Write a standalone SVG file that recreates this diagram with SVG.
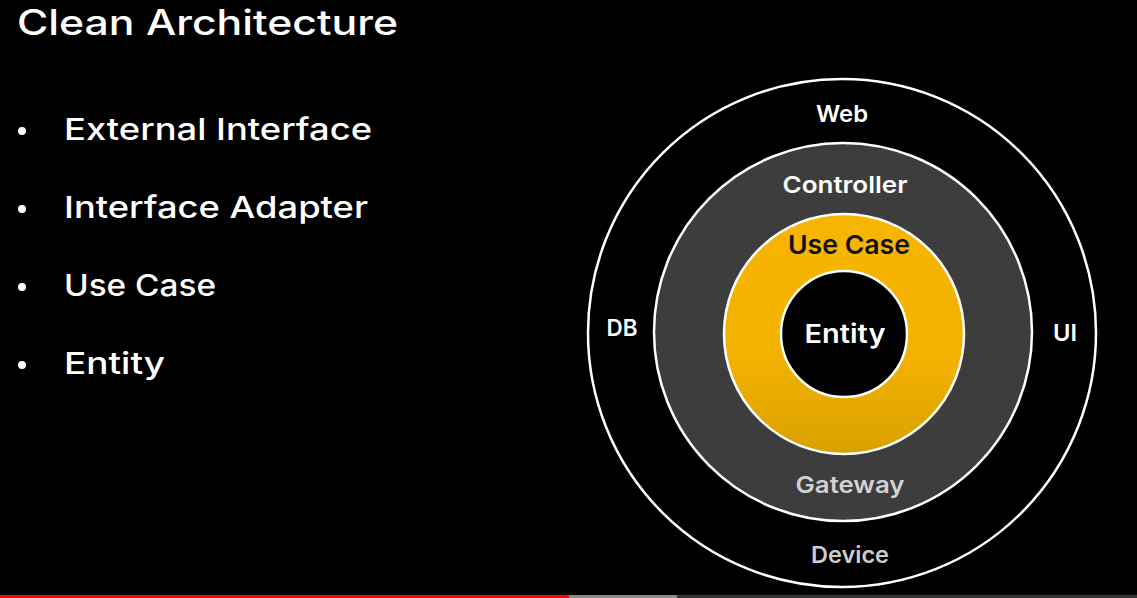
<svg xmlns="http://www.w3.org/2000/svg" width="1137" height="598" viewBox="0 0 1137 598">
  <defs>
    <linearGradient id="gold" x1="0" y1="0" x2="0" y2="1">
      <stop offset="0" stop-color="#F7B500"/>
      <stop offset="0.6" stop-color="#F3B200"/>
      <stop offset="1" stop-color="#D9A000"/>
    </linearGradient>
    <style>
      text { font-family: "Inter", "Liberation Sans", sans-serif; }
      .title { fill: #ffffff; font-size: 35px; font-weight: 500; }
      .bullet { fill: #ffffff; font-size: 30px; font-weight: 500; }
      .dot { fill: #ffffff; }
      .ring { stroke: #ffffff; stroke-width: 2.5; }
      .lbl { font-size: 23px; font-weight: 600; text-anchor: middle; }
      .big { font-size: 26px; font-weight: 600; text-anchor: middle; }
    </style>
  </defs>
  <rect x="0" y="0" width="1137" height="598" fill="#000000"/>

  <g id="title">
    <text class="title" x="17" y="35" textLength="381" lengthAdjust="spacingAndGlyphs">Clean Architecture</text>
  </g>

  <g id="bullets">
    <circle class="dot" cx="22" cy="131" r="4"/>
    <text class="bullet" x="64" y="140" textLength="308" lengthAdjust="spacingAndGlyphs">External Interface</text>
    <circle class="dot" cx="22" cy="209" r="4"/>
    <text class="bullet" x="64" y="218" textLength="304" lengthAdjust="spacingAndGlyphs">Interface Adapter</text>
    <circle class="dot" cx="22" cy="287" r="4"/>
    <text class="bullet" x="64" y="296" textLength="152" lengthAdjust="spacingAndGlyphs">Use Case</text>
    <circle class="dot" cx="22" cy="365" r="4"/>
    <text class="bullet" x="64" y="374" textLength="101" lengthAdjust="spacingAndGlyphs">Entity</text>
  </g>

  <g id="external-interface">
    <circle class="ring" cx="842" cy="333" r="254" fill="#000000" stroke-width="3"/>
    <text class="lbl" x="842" y="122" fill="#ffffff" textLength="52" lengthAdjust="spacingAndGlyphs">Web</text>
    <text class="lbl" x="622" y="336" fill="#ffffff" textLength="31" lengthAdjust="spacingAndGlyphs">DB</text>
    <text class="lbl" x="1065" y="341" fill="#ffffff" textLength="24" lengthAdjust="spacingAndGlyphs">UI</text>
    <text class="lbl" x="850" y="563" fill="#cccccc" textLength="78" lengthAdjust="spacingAndGlyphs">Device</text>
  </g>

  <g id="interface-adapter">
    <circle class="ring" cx="843" cy="332" r="189" fill="#3d3d3d"/>
    <text class="lbl" x="845" y="193" fill="#ffffff" textLength="125" lengthAdjust="spacingAndGlyphs">Controller</text>
    <text class="lbl" x="850" y="493" fill="#d2d2d2" textLength="109" lengthAdjust="spacingAndGlyphs">Gateway</text>
  </g>

  <g id="use-case">
    <circle class="ring" cx="844" cy="334" r="120" fill="url(#gold)"/>
    <text class="big" x="849" y="254" fill="#111111" textLength="122" lengthAdjust="spacingAndGlyphs">Use Case</text>
  </g>

  <g id="entity">
    <circle class="ring" cx="844" cy="334" r="63" fill="#000000"/>
    <text class="big" x="845" y="343" fill="#ffffff" textLength="81" lengthAdjust="spacingAndGlyphs">Entity</text>
  </g>

  <g id="progress-bar">
    <rect x="0" y="595" width="569" height="3" fill="#FF0000"/>
    <rect x="569" y="595" width="108" height="3" fill="#8a8a8a"/>
    <rect x="677" y="595" width="460" height="3" fill="#333333"/>
  </g>
</svg>
